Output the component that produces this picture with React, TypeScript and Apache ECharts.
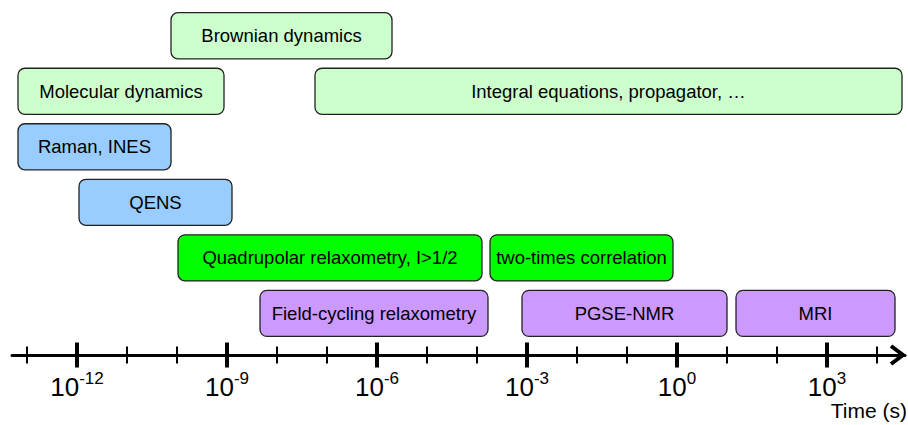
import React, { useEffect, useRef } from "react";
import * as echarts from "echarts";

// Methods and their time ranges (log10 of seconds)
const methods = [
  "Brownian dynamics",
  "Molecular dynamics",
  "Integral equations, propagator, …",
  "Raman, INES",
  "QENS",
  "Quadrupolar relaxometry, I>1/2",
  "two-times correlation",
  "Field-cycling relaxometry",
  "PGSE-NMR",
  "MRI",
];
const rows = [0, 1, 1, 2, 3, 4, 4, 5, 5, 5];
const startLog = [-10.12, -13.18, -7.24, -13.18, -11.96, -9.98, -3.74, -8.34, -3.1, 1.18];
const endLog = [-5.7, -9.06, 4.5, -10.12, -8.9, -3.9, -0.08, -3.78, 1.0, 4.36];
const groups = ["sim", "sim", "sim", "scat", "scat", "quad", "quad", "nmr", "nmr", "nmr"];

const majorTicks = [-12, -9, -6, -3, 0, 3];
const minorTicks = [-13, -11, -10, -8, -7, -5, -4, -2, -1, 1, 2, 4];

const GROUP_COLORS: Record<string, string> = {
  sim: "#ccffcc",
  scat: "#99ccff",
  quad: "#00ff00",
  nmr: "#cc99ff",
};

const X_MIN = -13.3;
const X_MAX = 4.56;
const Y_MIN = -0.5;
const Y_MAX = 5.75;
const FONT = "'Liberation Sans', Arial, Helvetica, sans-serif";

export default function App() {
  const ref = useRef<HTMLDivElement>(null);

  useEffect(() => {
    if (!ref.current) return;
    const chart = echarts.init(ref.current, undefined, { renderer: "svg" });

    const boxData = methods.map((name, i) => ({
      name,
      value: [startLog[i], endLog[i], rows[i]],
    }));

    const tickData = [
      ...majorTicks.map((v) => [v, 1]),
      ...minorTicks.map((v) => [v, 0]),
    ];

    chart.setOption({
      animation: false,
      backgroundColor: "#ffffff",
      textStyle: { fontFamily: FONT },
      title: {
        text: "Time (s)",
        right: 1,
        top: 400,
        padding: 0,
        textStyle: { fontSize: 21, fontWeight: "normal", color: "#000", fontFamily: FONT },
      },
      grid: { left: 12, right: 3, top: 8, bottom: 70, containLabel: false },
      xAxis: {
        type: "value",
        position: "bottom",
        min: X_MIN,
        max: X_MAX,
        axisLine: { show: true, onZero: false, lineStyle: { color: "#000", width: 3 } },
        axisTick: { show: false },
        splitLine: { show: false },
        axisLabel: {
          show: true,
          customValues: majorTicks,
          margin: 15,
          formatter: (v: number) => `{b|10}{s|${Math.round(v)}}`,
          rich: {
            b: { fontSize: 26, lineHeight: 30, color: "#000", fontFamily: FONT, verticalAlign: "bottom" },
            s: { fontSize: 17, lineHeight: 20, color: "#000", fontFamily: FONT, verticalAlign: "top" },
          },
        },
      },
      yAxis: {
        type: "value",
        min: Y_MIN,
        max: Y_MAX,
        inverse: true,
        show: false,
      },
      series: [
        {
          type: "custom",
          name: "methods",
          data: boxData,
          renderItem: (params: any, api: any) => {
            const i = params.dataIndex;
            const s = api.coord([api.value(0), api.value(2)]);
            const e = api.coord([api.value(1), api.value(2)]);
            const h = api.size([0, 1])[1] * 0.83;
            return {
              type: "group",
              children: [
                {
                  type: "rect",
                  shape: { x: s[0], y: s[1] - h / 2, width: e[0] - s[0], height: h, r: 7 },
                  style: { fill: GROUP_COLORS[groups[i]], stroke: "#222", lineWidth: 1.3 },
                },
                {
                  type: "text",
                  style: {
                    text: methods[i],
                    x: (s[0] + e[0]) / 2,
                    y: s[1],
                    align: "center",
                    verticalAlign: "middle",
                    fontSize: 18.5,
                    fontFamily: FONT,
                    fill: "#000",
                  },
                },
              ],
            };
          },
        },
        {
          type: "custom",
          name: "ticks",
          data: tickData,
          renderItem: (params: any, api: any) => {
            const p = api.coord([api.value(0), Y_MAX]);
            const major = api.value(1) === 1;
            const half = major ? 12.5 : 8.5;
            return {
              type: "line",
              shape: { x1: p[0], y1: p[1] - half, x2: p[0], y2: p[1] + half },
              style: { stroke: "#000", lineWidth: major ? 4 : 2 },
            };
          },
        },
        {
          type: "custom",
          name: "arrow",
          data: [[X_MAX]],
          renderItem: (params: any, api: any) => {
            const p = api.coord([api.value(0), Y_MAX]);
            const tx = p[0] - 2;
            return {
              type: "polyline",
              shape: {
                points: [
                  [tx - 12, p[1] - 9],
                  [tx, p[1]],
                  [tx - 12, p[1] + 9],
                ],
              },
              style: { stroke: "#000", lineWidth: 4, fill: "none", lineJoin: "miter" },
            };
          },
        },
      ],
    });

    return () => chart.dispose();
  }, []);

  return (
    <div
      ref={ref}
      style={{ position: "absolute", left: 0, top: 0, width: 908, height: 425 }}
    />
  );
}
